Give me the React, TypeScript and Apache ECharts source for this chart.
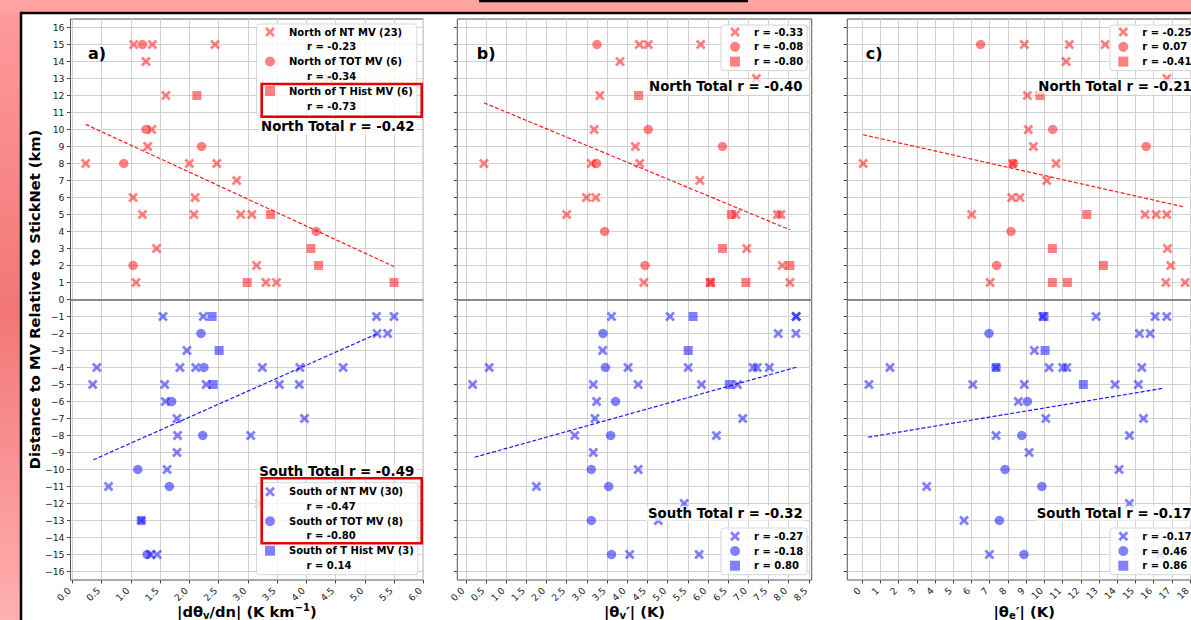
import React, { useEffect, useRef } from 'react';
import * as echarts from 'echarts';

const FONT = 'DejaVu Sans';
const RED = 'rgba(255,0,0,0.62)';
const BLUE = 'rgba(0,0,255,0.62)';
const RED_LINE = 'rgba(255,0,0,0.9)';
const BLUE_LINE = 'rgba(0,0,255,0.9)';
const X_SYMBOL = 'path://M0,2L2,0L5,3L8,0L10,2L7,5L10,8L8,10L5,7L2,10L0,8L3,5Z';
const SQ_SYMBOL = 'path://M0,0L10,0L10,10L0,10Z';

// ---------- tick labels ----------
const yTicks = [-16, -15, -14, -13, -12, -11, -10, -9, -8, -7, -6, -5, -4, -3, -2, -1, 0, 1, 2, 3, 4, 5, 6, 7, 8, 9, 10, 11, 12, 13, 14, 15, 16];
const xTicksA = [0, 0.5, 1, 1.5, 2, 2.5, 3, 3.5, 4, 4.5, 5, 5.5, 6];
const xTicksB = [0, 0.5, 1, 1.5, 2, 2.5, 3, 3.5, 4, 4.5, 5, 5.5, 6, 6.5, 7, 7.5, 8, 8.5];
const xTicksC = [0, 1, 2, 3, 4, 5, 6, 7, 8, 9, 10, 11, 12, 13, 14, 15, 16, 17, 18];

// ---------- panel a : |dθv/dn| ----------
const aNorthNT = [[1.05, 15], [1.37, 15], [2.44, 15], [1.26, 14], [4.38, 13], [1.60, 12], [1.36, 10], [1.29, 9], [0.23, 8], [2.00, 8], [2.47, 8], [2.81, 7], [1.04, 6], [2.10, 6], [1.20, 5], [2.08, 5], [2.88, 5], [3.07, 5], [1.44, 3], [3.15, 2], [1.09, 1], [3.31, 1], [3.49, 1]];
const aNorthTOT = [[1.20, 15], [1.26, 10], [2.21, 9], [0.88, 8], [4.17, 4], [1.04, 2]];
const aNorthTH = [[2.13, 12], [3.39, 5], [4.08, 3], [4.21, 2], [2.99, 1], [5.50, 1]];
const aSouthNT = [[1.55, -1], [2.24, -1], [5.20, -1], [5.50, -1], [5.21, -2], [5.39, -2], [1.96, -3], [0.42, -4], [1.84, -4], [2.11, -4], [3.25, -4], [3.89, -4], [4.63, -4], [0.35, -5], [1.58, -5], [2.29, -5], [3.54, -5], [3.88, -5], [1.59, -6], [1.79, -7], [3.97, -7], [1.80, -8], [3.05, -8], [1.79, -9], [1.62, -10], [0.62, -11], [3.21, -12], [1.18, -13], [1.34, -15], [1.45, -15]];
const aSouthTOT = [[2.20, -2], [2.25, -4], [1.70, -6], [2.23, -8], [1.12, -10], [1.66, -11], [1.18, -13], [1.28, -15]];
const aSouthTH = [[2.39, -1], [2.51, -3], [2.41, -5]];
const aNorthFit = [[0.23, 10.3], [5.5, 1.94]];
const aSouthFit = [[0.36, -9.43], [5.22, -2.0]];

// ---------- panel b : |θv'| ----------
const bNorthNT = [[4.30, 15], [4.52, 15], [5.82, 15], [3.82, 14], [7.20, 13], [3.32, 12], [3.18, 10], [4.20, 9], [0.45, 8], [3.11, 8], [4.31, 8], [5.80, 7], [2.99, 6], [3.22, 6], [2.50, 5], [6.69, 5], [7.72, 5], [7.81, 5], [6.96, 3], [7.84, 2], [4.41, 1], [6.06, 1], [8.03, 1]];
const bNorthTOT = [[3.25, 15], [4.52, 10], [6.36, 9], [3.24, 8], [3.44, 4], [4.44, 2]];
const bNorthTH = [[4.28, 12], [6.58, 5], [6.36, 3], [8.03, 2], [6.06, 1], [6.94, 1]];
const bSouthNT = [[3.61, -1], [5.06, -1], [8.18, -1], [8.19, -1], [7.74, -2], [8.18, -2], [3.39, -3], [0.58, -4], [4.02, -4], [5.51, -4], [7.12, -4], [7.22, -4], [7.52, -4], [0.17, -5], [3.16, -5], [4.27, -5], [5.84, -5], [6.73, -5], [3.24, -6], [3.20, -7], [6.86, -7], [2.70, -8], [6.21, -8], [3.16, -9], [4.27, -10], [1.75, -11], [5.41, -12], [4.77, -13], [4.06, -15], [5.78, -15]];
const bSouthTOT = [[3.40, -2], [3.46, -4], [3.71, -6], [3.59, -8], [3.11, -10], [3.54, -11], [3.11, -13], [3.61, -15]];
const bSouthTH = [[5.63, -1], [5.51, -3], [6.53, -5]];
const bNorthFit = [[0.45, 11.57], [8.03, 4.1]];
const bSouthFit = [[0.22, -9.28], [8.2, -3.98]];

// ---------- panel c : |θe'| ----------
const cNorthNT = [[8.90, 15], [11.37, 15], [13.34, 15], [11.19, 14], [16.72, 13], [9.07, 12], [9.12, 10], [9.40, 9], [0.05, 8], [8.26, 8], [10.64, 8], [10.13, 7], [8.21, 6], [8.66, 6], [6.01, 5], [15.53, 5], [16.14, 5], [16.72, 5], [16.76, 3], [16.94, 2], [7.02, 1], [16.67, 1], [17.73, 1]];
const cNorthTOT = [[6.50, 15], [10.46, 10], [15.59, 9], [8.30, 8], [8.17, 4], [7.38, 2]];
const cNorthTH = [[9.76, 12], [12.33, 5], [10.44, 3], [13.24, 2], [10.44, 1], [11.26, 1]];
const cSouthNT = [[9.91, -1], [12.84, -1], [16.08, -1], [16.72, -1], [15.22, -2], [15.81, -2], [9.45, -3], [1.52, -4], [7.35, -4], [10.26, -4], [11.01, -4], [11.23, -4], [15.35, -4], [0.37, -5], [6.07, -5], [8.90, -5], [13.88, -5], [15.16, -5], [8.57, -6], [10.08, -7], [15.44, -7], [7.35, -8], [14.67, -8], [9.16, -9], [14.10, -10], [3.54, -11], [14.67, -12], [5.59, -13], [6.98, -15], [16.36, -15]];
const cSouthTOT = [[6.96, -2], [7.35, -4], [9.07, -6], [8.76, -8], [7.84, -10], [9.86, -11], [7.53, -13], [8.88, -15]];
const cSouthTH = [[9.98, -1], [10.04, -3], [12.14, -5]];
const cNorthFit = [[0.05, 9.69], [17.73, 5.43]];
const cSouthFit = [[0.33, -8.1], [16.54, -5.22]];

// ---------- legend / annotation texts ----------
const aNorthNames = ['North of NT MV (23)', 'North of TOT MV (6)', 'North of T Hist MV (6)'];
const aNorthR = ['r = -0.23', 'r = -0.34', 'r = -0.73'];
const aSouthNames = ['South of NT MV (30)', 'South of TOT MV (8)', 'South of T Hist MV (3)'];
const aSouthR = ['r = -0.47', 'r = -0.80', 'r = 0.14'];
const bNorthNames = ['r = -0.33', 'r = -0.08', 'r = -0.80'];
const bSouthNames = ['r = -0.27', 'r = -0.18', 'r = 0.80'];
const cNorthNames = ['r = -0.25', 'r = 0.07', 'r = -0.41'];
const cSouthNames = ['r = -0.17', 'r = 0.46', 'r = 0.86'];
const totals = [
  ['North Total r = -0.42', 'South Total r = -0.49'],
  ['North Total r = -0.40', 'South Total r = -0.32'],
  ['North Total r = -0.21', 'South Total r = -0.17'],
];
const panelLetters = ['a)', 'b)', 'c)'];
const yTitle = 'Distance to MV Relative to StickNet (km)';

// ---------- layout (pixels) ----------
const GRIDS = [
  { left: 70.5, width: 352.8, xmin: -0.03, xmax: 6.0 },
  { left: 457.3, width: 354.4, xmin: -0.21, xmax: 8.57 },
  { left: 847.3, width: 353.7, xmin: -0.82, xmax: 18.6 },
];
const GRID_TOP = 19;
const GRID_H = 561;

const fmtY = (v: number) => (v < 0 ? '\u2212' + Math.abs(v) : String(v));
const fmt1 = (v: number) => v.toFixed(1);
const fmt0 = (v: number) => String(Math.round(v));

const richName = {
  n: { fontSize: 14.7, fontWeight: 'bold', fontFamily: FONT, color: '#000', lineHeight: 18 },
  s: { fontSize: 10, fontWeight: 'bold', fontFamily: FONT, color: '#000', lineHeight: 10, verticalAlign: 'bottom' },
  p: { fontSize: 10, fontWeight: 'bold', fontFamily: FONT, color: '#000', lineHeight: 10, verticalAlign: 'top' },
};
const xNames = [
  '{n||d\u03B8}{s|v}{n|/dn| (K km}{p|\u22121}{n|)}',
  '{n||\u03B8}{s|v}{n|\u2032| (K)}',
  '{n||\u03B8}{s|e}{n|\u2032| (K)}',
];

function buildOption() {
  const grid = GRIDS.map((g) => ({
    left: g.left, top: GRID_TOP, width: g.width, height: GRID_H,
    show: true, borderColor: '#555', borderWidth: 1, backgroundColor: 'transparent',
    containLabel: false, outerBoundsMode: 'none',
  }));
  const xTickSets = [xTicksA, xTicksB, xTicksC];
  const xFmts = [fmt1, fmt1, fmt0];
  const xAxis = GRIDS.map((g, i) => ({
    type: 'value', gridIndex: i, min: g.xmin, max: g.xmax,
    axisLine: { show: false, onZero: false },
    axisTick: { show: true, length: 3.5, customValues: xTickSets[i], lineStyle: { color: '#444' } },
    axisLabel: {
      customValues: xTickSets[i], rotate: 45, margin: 12, fontSize: 9.3, color: '#222', fontFamily: FONT,
      formatter: xFmts[i], align: 'right', verticalAlign: 'bottom', hideOverlap: false,
    },
    splitLine: { show: true, lineStyle: { color: '#d2d2d2', width: 1 } },
    name: xNames[i], nameLocation: 'middle', nameGap: 22, nameMoveOverlap: false,
    nameTextStyle: { rich: richName, verticalAlign: 'top' },
  }));
  const yAxis = GRIDS.map((g, i) => ({
    type: 'value', gridIndex: i, min: -16.5, max: 16.5,
    axisLine: { show: false, onZero: false },
    axisTick: { show: true, length: 3.5, customValues: yTicks, lineStyle: { color: '#444' } },
    axisLabel: { show: i === 0, customValues: yTicks, margin: 6, fontSize: 9.3, color: '#222', fontFamily: FONT, formatter: fmtY },
    splitLine: { show: true, lineStyle: { color: '#d2d2d2', width: 1 } },
    name: i === 0 ? yTitle : '', nameLocation: 'middle', nameGap: 29, nameRotate: 90, nameMoveOverlap: false,
    nameTextStyle: { fontSize: 14.7, fontWeight: 'bold', fontFamily: FONT, color: '#000' },
  }));

  const panels = [
    { north: [aNorthNT, aNorthTOT, aNorthTH], south: [aSouthNT, aSouthTOT, aSouthTH], nNames: aNorthNames, sNames: aSouthNames, fits: [aNorthFit, aSouthFit] },
    { north: [bNorthNT, bNorthTOT, bNorthTH], south: [bSouthNT, bSouthTOT, bSouthTH], nNames: bNorthNames, sNames: bSouthNames, fits: [bNorthFit, bSouthFit] },
    { north: [cNorthNT, cNorthTOT, cNorthTH], south: [cSouthNT, cSouthTOT, cSouthTH], nNames: cNorthNames, sNames: cSouthNames, fits: [cNorthFit, cSouthFit] },
  ];
  const symbols = [X_SYMBOL, 'circle', SQ_SYMBOL];
  const sizes = [10, 9.5, 9];
  const series: any[] = [];
  panels.forEach((p, i) => {
    series.push({
      type: 'line', name: 'zero' + i, xAxisIndex: i, yAxisIndex: i, data: [], silent: true,
      markLine: {
        silent: true, symbol: ['none', 'none'], label: { show: false },
        lineStyle: { color: '#6e6e6e', width: 1.7, type: 'solid' },
        data: [{ yAxis: 0 }], animation: false,
      },
    });
    [0, 1, 2].forEach((k) => {
      series.push({
        type: 'scatter', name: p.nNames[k], xAxisIndex: i, yAxisIndex: i, data: p.north[k],
        symbol: symbols[k], symbolSize: sizes[k], itemStyle: { color: RED }, emphasis: { disabled: true }, z: 2,
      });
      series.push({
        type: 'scatter', name: p.sNames[k], xAxisIndex: i, yAxisIndex: i, data: p.south[k],
        symbol: symbols[k], symbolSize: sizes[k], itemStyle: { color: BLUE }, emphasis: { disabled: true }, z: 2,
      });
    });
    series.push({
      type: 'line', name: 'fitN' + i, xAxisIndex: i, yAxisIndex: i, data: p.fits[0], showSymbol: false, symbol: 'none', silent: true,
      lineStyle: { color: RED_LINE, width: 1.2, type: [4, 2] }, z: 3,
    });
    series.push({
      type: 'line', name: 'fitS' + i, xAxisIndex: i, yAxisIndex: i, data: p.fits[1], showSymbol: false, symbol: 'none', silent: true,
      lineStyle: { color: BLUE_LINE, width: 1.2, type: [4, 2] }, z: 3,
    });
  });

  const legendBase = {
    orient: 'vertical', itemWidth: 28, itemHeight: 10, selectedMode: false,
    textStyle: { fontSize: 10, fontWeight: 'bold', fontFamily: FONT, color: '#000', lineHeight: 10 },
    backgroundColor: 'rgba(255,255,255,0.8)', borderColor: '#d6d6d6', borderWidth: 1, borderRadius: 3,
  };
  const legend = [
    { ...legendBase, data: aNorthNames, left: 256.5, top: 24, itemGap: 19.5, padding: [3, 4, 20, 8.5] },
    { ...legendBase, data: aSouthNames, left: 256.5, top: 482.7, itemGap: 19.5, padding: [4, 4, 19, 8.5] },
    { ...legendBase, data: bNorthNames, left: 721, top: 25, itemGap: 4.8, padding: [2, 4, 4, 9] },
    { ...legendBase, data: bSouthNames, left: 721, top: 528, itemGap: 4.7, padding: [3.3, 4, 4, 9] },
    { ...legendBase, data: cNorthNames, left: 1110, top: 25, itemGap: 4.8, padding: [2, 4, 4, 8.3] },
    { ...legendBase, data: cSouthNames, left: 1110, top: 528, itemGap: 4.7, padding: [3.3, 4, 4, 8.3] },
  ];

  const txt = (text: string, x: number, y: number, size: number, extra: any = {}) => ({
    type: 'text', z: 100, silent: true,
    style: {
      text, x, y, fontSize: size, fontWeight: 'bold', fontFamily: FONT, fill: '#000',
      align: 'left', verticalAlign: 'middle', textAlign: 'left', textVerticalAlign: 'middle', ...extra,
    },
  });
  const totalBg = { backgroundColor: 'rgba(255,255,255,0.7)', padding: [1, 2, 1, 2] };
  const totalPos = [
    [[259, 126.7], [257.3, 471.7]],
    [[647, 86.7], [646, 513.3]],
    [[1036.3, 86.7], [1034.7, 513.3]],
  ];
  const letterPos = [[88, 53], [476.7, 53], [865.7, 53]];

  const graphic: any[] = [
    {
      type: 'rect', z: -10, silent: true, shape: { x: 0, y: 0, width: 21, height: 620 },
      style: { fill: new echarts.graphic.LinearGradient(0, 0, 0, 1, [
        { offset: 0, color: '#ff9c9c' }, { offset: 0.5, color: '#f37676' }, { offset: 1, color: '#ffb0b0' },
      ]) },
    },
    { type: 'rect', z: -10, silent: true, shape: { x: 0, y: 0, width: 1191, height: 13 }, style: { fill: '#ffa2a2' } },
    { type: 'rect', z: 50, silent: true, shape: { x: 21, y: 13, width: 1200, height: 700 }, style: { fill: 'none', stroke: '#000', lineWidth: 2.5 } },
    { type: 'line', z: 50, silent: true, shape: { x1: 479, y1: 1, x2: 748, y2: 1 }, style: { stroke: '#000', lineWidth: 2.5 } },
  ];
  letterPos.forEach((p, i) => graphic.push(txt(panelLetters[i], p[0], p[1], 16)));
  totals.forEach((t, i) => {
    graphic.push(txt(t[0], totalPos[i][0][0], totalPos[i][0][1], 13.3, totalBg));
    graphic.push(txt(t[1], totalPos[i][1][0], totalPos[i][1][1], 13.3, totalBg));
  });
  const aNorthRY = [46.7, 76.7, 106];
  const aSouthRY = [506, 535.7, 565.7];
  aNorthR.forEach((r, k) => graphic.push(txt(r, 307, aNorthRY[k], 10)));
  aSouthR.forEach((r, k) => graphic.push(txt(r, 306.5, aSouthRY[k], 10)));
  graphic.push({ type: 'rect', z: 101, silent: true, shape: { x: 261.7, y: 84, width: 160, height: 32.7 }, style: { fill: 'none', stroke: '#e80000', lineWidth: 2.6 } });
  graphic.push({ type: 'rect', z: 101, silent: true, shape: { x: 261.7, y: 478.3, width: 160, height: 65 }, style: { fill: 'none', stroke: '#e80000', lineWidth: 2.6 } });

  return {
    animation: false,
    backgroundColor: '#ffffff',
    textStyle: { fontFamily: FONT },
    grid, xAxis, yAxis, series, legend, graphic,
  };
}

export default function App() {
  const ref = useRef<HTMLDivElement>(null);
  useEffect(() => {
    if (!ref.current) return;
    const chart = echarts.init(ref.current, undefined, { renderer: 'svg' });
    chart.setOption(buildOption() as any);
    return () => chart.dispose();
  }, []);
  return <div ref={ref} style={{ position: 'fixed', left: 0, top: 0, width: 1191, height: 620 }} />;
}
